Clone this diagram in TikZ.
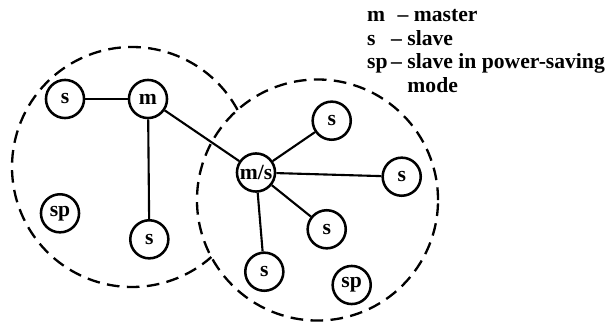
\documentclass[tikz,border=0pt]{standalone}
\usepackage{fontspec}
\setmainfont{Liberation Serif}
\usetikzlibrary{positioning}

\begin{document}
\begin{tikzpicture}[
  x=1cm,
  y=1cm,
  font=\fontsize{20.5}{22.2}\selectfont\bfseries,
  dev/.style={draw, circle, line width=2.4pt, minimum size=1.27cm, inner sep=0pt},
  link/.style={line width=2pt},
  zone/.style={line width=2.2pt, dash pattern=on 12pt off 7pt}
]

\useasboundingbox (0,0) rectangle (20.433,10.8);

% Piconets (dashed), left one stops where the right one begins
\coordinate (netL) at (4.4,5.233);
\coordinate (netR) at (10.583,4.133);
\draw[zone] (netR) circle (4.017);
\draw[zone] ([shift={(28.4:4)}]netL) arc[start angle=28.4, end angle=311.4, radius=4];

% Left piconet
\node[dev] (slaveA) at (2.167,7.5)   {s};
\node[dev] (master) at (4.933,7.5)   {m};
\node[dev] (sleepA) at (2.0,3.69)    {sp};
\node[dev] (slaveB) at (4.977,2.823) {s};

% Right piconet
\node[dev] (bridge) at (8.533,5.05)  {m/s};
\node[dev] (slaveC) at (11.057,6.777) {s};
\node[dev] (slaveD) at (13.39,4.91)  {s};
\node[dev] (slaveE) at (10.89,3.157) {s};
\node[dev] (slaveF) at (8.81,1.743)  {s};
\node[dev] (sleepB) at (11.723,1.3)  {sp};

% Legend
\node[anchor=base west, inner sep=0pt] (legend) at (12.233,10.067) {%
  \begin{tabular}[t]{@{}l@{\,}l@{}}
    m  & \hspace{0.3em}-- master\\
    s  & -- slave\\
    sp & -- slave in power-saving\\
       & \phantom{-- }mode
  \end{tabular}};

% Links
\draw[link] (slaveA) -- (master);
\draw[link] (master) -- (slaveB);
\draw[link] (master) -- (bridge);
\draw[link] (bridge) -- (slaveC);
\draw[link] (bridge) -- (slaveD);
\draw[link] (bridge) -- (slaveE);
\draw[link] (bridge) -- (slaveF);

\end{tikzpicture}
\end{document}
